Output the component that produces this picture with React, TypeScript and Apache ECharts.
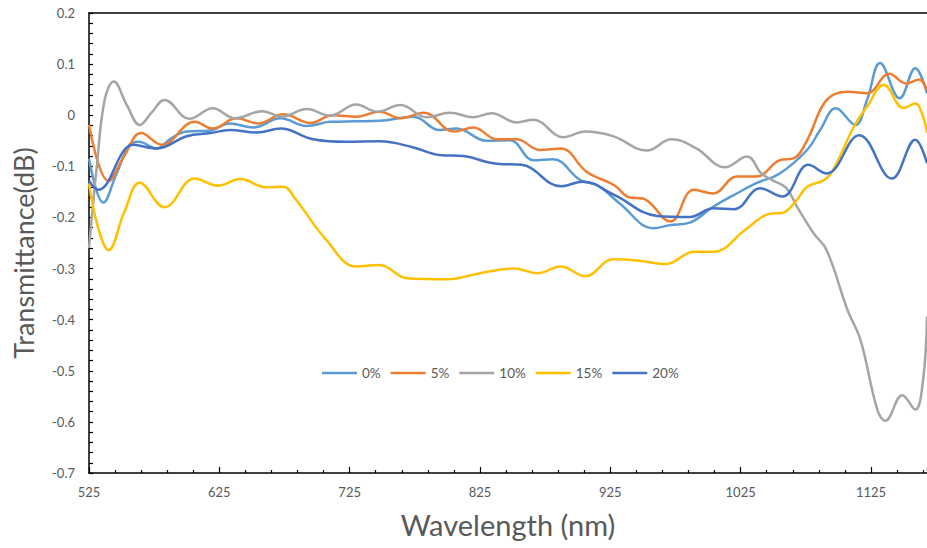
import React, { useEffect, useRef } from "react";
import * as echarts from "echarts";

const seriesNames = ["0%", "5%", "10%", "15%", "20%"];
const colors = ["#5B9BD5", "#ED7D31", "#A5A5A5", "#FFC000", "#4472C4"];

const w0 = [525, 536, 546, 556, 563, 577, 588, 600, 618, 633, 651, 672, 692, 710, 730, 748, 774, 794, 807, 830, 848, 866, 881, 902, 915, 932, 958, 971, 986, 1004, 1020, 1037, 1055, 1076, 1086, 1098, 1113, 1122, 1132, 1147, 1159, 1168];
const v0 = [-0.085, -0.171, -0.115, -0.058, -0.052, -0.065, -0.045, -0.032, -0.03, -0.016, -0.024, -0.006, -0.021, -0.013, -0.012, -0.011, -0.003, -0.029, -0.026, -0.05, -0.049, -0.088, -0.086, -0.127, -0.137, -0.172, -0.221, -0.215, -0.21, -0.179, -0.156, -0.133, -0.114, -0.068, -0.029, 0.0135, -0.019, 0.03, 0.102, 0.033, 0.092, 0.043];

const w5 = [525, 540, 552, 565, 581, 606, 620, 638, 655, 674, 695, 712, 730, 748, 764, 782, 805, 820, 838, 853, 871, 887, 907, 928, 940, 950, 971, 989, 1004, 1022, 1037, 1055, 1066, 1076, 1091, 1107, 1122, 1139, 1152, 1162, 1168];
const v5 = [-0.019, -0.129, -0.08, -0.035, -0.058, -0.013, -0.026, -0.006, -0.016, 0.002, -0.015, 0.0, -0.003, 0.007, -0.006, 0.005, -0.032, -0.024, -0.047, -0.047, -0.068, -0.065, -0.111, -0.137, -0.161, -0.163, -0.208, -0.146, -0.153, -0.12, -0.12, -0.088, -0.084, -0.049, 0.03, 0.046, 0.043, 0.081, 0.062, 0.07, 0.049];

const w10 = [525, 531, 537, 544, 554, 564, 573, 583, 602, 620, 637, 658, 673, 692, 710, 730, 746, 764, 784, 802, 820, 834, 853, 866, 889, 906, 927, 953, 972, 991, 1013, 1030, 1041, 1050, 1060, 1068, 1081, 1091, 1107, 1117, 1130, 1136, 1149, 1159, 1165, 1168];
const v10 = [-0.26, -0.1, 0.03, 0.066, 0.02, -0.019, 0.005, 0.03, -0.007, 0.0135, -0.006, 0.008, -0.003, 0.012, -0.001, 0.021, 0.007, 0.02, -0.004, 0.005, -0.004, 0.004, -0.014, -0.009, -0.043, -0.032, -0.041, -0.069, -0.047, -0.065, -0.102, -0.081, -0.114, -0.128, -0.142, -0.178, -0.231, -0.264, -0.381, -0.44, -0.577, -0.598, -0.548, -0.576, -0.518, -0.394];

const w15 = [525, 532, 540, 552, 564, 583, 606, 624, 641, 661, 674, 684, 707, 730, 748, 769, 800, 825, 851, 869, 887, 906, 927, 948, 968, 989, 1004, 1030, 1047, 1057, 1068, 1076, 1089, 1096, 1112, 1122, 1135, 1150, 1159, 1165, 1168];
const v15 = [-0.133, -0.22, -0.264, -0.19, -0.132, -0.18, -0.124, -0.138, -0.125, -0.141, -0.14, -0.166, -0.244, -0.296, -0.293, -0.319, -0.321, -0.309, -0.3, -0.309, -0.296, -0.315, -0.282, -0.285, -0.291, -0.267, -0.267, -0.221, -0.193, -0.191, -0.166, -0.14, -0.127, -0.107, -0.022, 0.017, 0.059, 0.014, 0.023, -0.003, -0.035];

const w20 = [525, 532, 559, 577, 600, 618, 633, 654, 672, 697, 723, 748, 774, 794, 812, 838, 857, 887, 904, 928, 961, 986, 1004, 1020, 1040, 1057, 1077, 1091, 1116, 1141, 1159, 1168];
const v20 = [-0.128, -0.146, -0.058, -0.065, -0.041, -0.035, -0.029, -0.034, -0.026, -0.047, -0.052, -0.051, -0.063, -0.078, -0.08, -0.095, -0.097, -0.139, -0.13, -0.156, -0.197, -0.199, -0.182, -0.184, -0.143, -0.159, -0.097, -0.114, -0.039, -0.124, -0.048, -0.094];

const xTicks = [525, 625, 725, 825, 925, 1025, 1125];
const yTicks = [-0.7, -0.6, -0.5, -0.4, -0.3, -0.2, -0.1, 0, 0.1, 0.2];

const allW = [w0, w5, w10, w15, w20];
const allV = [v0, v5, v10, v15, v20];

const FONT = "Lato, 'Open Sans', sans-serif";
const GRAY = "#595959";

export default function App() {
  const ref = useRef<HTMLDivElement>(null);
  useEffect(() => {
    if (!ref.current) return;
    const chart = echarts.init(ref.current, null, { renderer: "svg" });
    const series = seriesNames.map((name, i) => ({
      name,
      type: "line",
      data: allW[i].map((w, j) => [w, allV[i][j]]),
      smooth: 0.4,
      symbol: "none",
      lineStyle: { width: 2.5, color: colors[i] },
      itemStyle: { color: colors[i] },
      clip: true,
    }));
    chart.setOption({
      animation: false,
      backgroundColor: "#ffffff",
      textStyle: { fontFamily: FONT },
      grid: { left: 89, top: 13, right: 0, bottom: 75, containLabel: false },
      legend: {
        data: seriesNames,
        left: 317,
        top: 361,
        icon: "rect",
        itemWidth: 35,
        itemHeight: 2.5,
        itemGap: 10,
        textStyle: { color: GRAY, fontSize: 13.5, fontFamily: FONT },
      },
      xAxis: [
        {
          type: "value",
          min: xTicks[0],
          max: 1168,
          interval: 100,
          name: "Wavelength (nm)",
          nameLocation: "middle",
          nameGap: 37,
          nameTextStyle: { color: GRAY, fontSize: 29, fontFamily: FONT },
          axisLine: { show: true, onZero: false, lineStyle: { color: "#000", width: 1.5 } },
          axisTick: { show: true, inside: true, length: 6, lineStyle: { color: "#000", width: 1.2 } },
          minorTick: { show: true, splitNumber: 5, length: 3, lineStyle: { color: "#000", width: 1.2 } },
          axisLabel: {
            color: GRAY,
            fontSize: 13,
            margin: 12,
            showMaxLabel: false,
            formatter: (v: number) => (xTicks.includes(Math.round(v)) ? String(Math.round(v)) : ""),
          },
          splitLine: { show: false },
        },
        {
          type: "value",
          position: "top",
          min: xTicks[0],
          max: 1168,
          axisLine: { show: true, onZero: false, lineStyle: { color: "#000", width: 1.5 } },
          axisTick: { show: false },
          axisLabel: { show: false },
          splitLine: { show: false },
        },
      ],
      yAxis: {
        type: "value",
        min: yTicks[0],
        max: yTicks[yTicks.length - 1],
        interval: 0.1,
        name: "Transmittance(dB)",
        nameLocation: "middle",
        nameGap: 52,
        nameTextStyle: { color: GRAY, fontSize: 27, fontFamily: FONT, padding: [0, 20, 0, 0] },
        axisLine: { show: true, onZero: false, lineStyle: { color: "#000", width: 1.5 } },
        axisTick: { show: true, inside: true, length: 4, lineStyle: { color: "#000", width: 1.2 } },
        minorTick: { show: true, splitNumber: 5, length: 4, lineStyle: { color: "#000", width: 1.2 } },
        axisLabel: {
          color: GRAY,
          fontSize: 13,
          margin: 14,
          formatter: (v: number) => String(Math.round(v * 10) / 10),
        },
        splitLine: { show: false },
      },
      series,
    });
    return () => chart.dispose();
  }, []);
  return (
    <div
      ref={ref}
      style={{ position: "fixed", left: 0, top: 0, width: 927, height: 548, background: "#fff" }}
    />
  );
}
